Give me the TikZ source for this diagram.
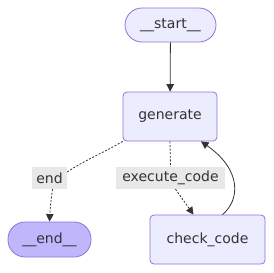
\documentclass[tikz,border=0pt]{standalone}
\usepackage{fontspec}
\setmainfont{DejaVu Sans}
\usetikzlibrary{arrows.meta}
\definecolor{nodefill}{HTML}{ECECFF}
\definecolor{nodeline}{HTML}{9370DB}
\definecolor{endfill}{HTML}{BFB6FC}
\definecolor{txt}{HTML}{333333}
\definecolor{lblfill}{HTML}{E8E8E8}
\begin{document}
\begin{tikzpicture}[x=1pt,y=-1pt,
  font=\fontsize{14}{16}\selectfont, text=txt,
  pill/.style={draw=nodeline, fill=nodefill, line width=0.8pt, rounded corners=17pt, inner sep=0pt},
  box/.style={draw=nodeline, fill=nodefill, line width=0.8pt, rounded corners=4pt, inner sep=0pt},
  lbl/.style={fill=lblfill, inner sep=0pt},
  edge/.style={draw=txt, line width=0.8pt, -{Triangle[length=7.5pt,width=7.5pt]}},
  dedge/.style={edge, dash pattern=on 2pt off 1.6pt},
  dline/.style={draw=txt, line width=0.8pt, dash pattern=on 2pt off 1.6pt}]
\useasboundingbox (0,0) rectangle (273,273);
\fill[white] (0,0) rectangle (273,273);
\node[pill, minimum width=91pt, minimum height=34pt] (start) at (170.5,25) {\_\_start\_\_};
\node[box, minimum width=94pt, minimum height=49pt] (gen) at (170,116.5) {generate};
\node[pill, fill=endfill, minimum width=83pt, minimum height=35pt] (end) at (49.5,239.5) {\_\_end\_\_};
\node[box, minimum width=115pt, minimum height=49pt] (chk) at (207.5,239.5) {check\_code};
\node[lbl, minimum width=35pt, minimum height=22pt] (lend) at (49.5,178) {end};
\node[lbl, minimum width=109pt, minimum height=22pt] (lexe) at (170.5,178) {execute\_code};
\draw[edge] (start) -- (gen);
\draw[dline] (gen.south west) .. controls (105,152) and (85,160) .. ([yshift=6pt]lend.east);
\draw[dedge] ([xshift=3pt]lend.south) .. controls (51,200) and (50,210) .. (end.north);
\draw[dline] (gen.south) -- (lexe.north);
\draw[dedge] ([xshift=5pt]lexe.south) -- ([xshift=-14pt]chk.north);
\draw[edge] ([xshift=15pt]chk.north) .. controls (240,200) and (242,170) .. ([xshift=31pt]gen.south);
\end{tikzpicture}
\end{document}
